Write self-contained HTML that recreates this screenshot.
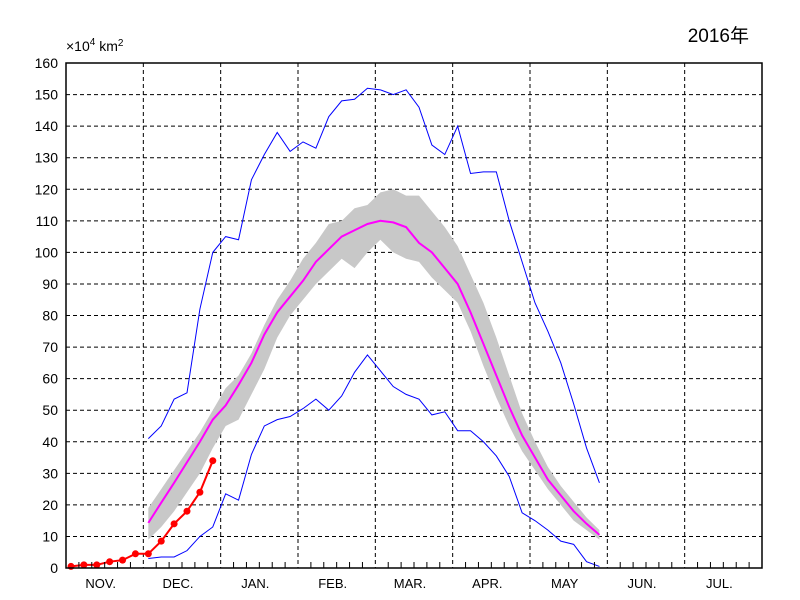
<!DOCTYPE html>
<html><head><meta charset="utf-8"><style>
html,body{margin:0;padding:0;background:#fff}
svg{display:block;font-family:"Liberation Sans","Noto Sans CJK JP",sans-serif}
</style></head><body>
<svg id="chart" width="800" height="600" viewBox="0 0 800 600">
<rect x="0" y="0" width="800" height="600" fill="#fff"/>
<text x="749" y="42" font-size="19" text-anchor="end" fill="#000">2016年</text>
<text x="66" y="51" font-size="14" fill="#000">×10<tspan font-size="10" dy="-6">4</tspan><tspan dy="6"> km</tspan><tspan font-size="10" dy="-5">2</tspan></text>
<g id="grid"></g>
<g id="marks"></g>
<rect x="66" y="63" width="696" height="505" fill="none" stroke="#000" stroke-width="1.5"/>
<g id="axes"></g>
</svg>
<script>
const yTicks=[0,10,20,30,40,50,60,70,80,90,100,110,120,130,140,150,160];
const months=["NOV.","DEC.","JAN.","FEB.","MAR.","APR.","MAY","JUN.","JUL."];
const current=[0.5,1,1,2,2.5,4.5,4.5,8.5,14,18,24,34];
const climStart=6;
const climMean=[14.3,20.7,27,33.5,40,47,51.5,58,65,74,81,86,91,97,101,105,107,109,110,109.5,108,103,100,95,90,81,71,61,51,42,35,28,23,18,14,10.5];
const bandUpper=[19,25,31,37,43,50,57,61,68,77,85,91,98,103,109,110,114,115,119,120,118,118,113,108,102,93,84,73,61,49,40,32,26,21,16,12];
const bandLower=[9,13,18,24,30,38,45,47,55,63,73,80,85,90,94,98,95,100,104,100,98,97,92,88,84,75,64,54,45,37,31,25,20,15,12,9];
const maxLine=[41,45,53.5,55.5,82,100,105,104,123,131,138,132,135,133,143,148,148.5,152,151.5,150,151.5,146,134,131,140,125,125.5,125.5,110,97,84,75,65,52,38,27];
const minLine=[3,3.5,3.5,5.5,10,13,23.5,21.5,36,45,47,48,50.5,53.5,50,54.5,62,67.5,62.5,57.5,55,53.5,48.5,49.5,43.5,43.5,40,35.5,29,17.5,15,12,8.5,7.5,2,0.5];

const NS="http://www.w3.org/2000/svg";
const L=66,R=762,T=63,B=568,yMax=160,monthW=(R-L)/9,step=monthW/6;
const y=v=>B-(v/yMax)*(B-T);
const x=i=>L+5+step*i;
function mk(tag,parent){const e=document.createElementNS(NS,tag);document.getElementById(parent).appendChild(e);return e;}

yTicks.forEach(v=>{
  if(v>0&&v<160){const g=mk("line","grid");
  
  
  g.setAttribute("x1",L);g.setAttribute("x2",R);g.setAttribute("y1",y(v));g.setAttribute("y2",y(v));
  g.setAttribute("stroke","#000");g.setAttribute("stroke-dasharray","4,3");}
  const t=mk("text","axes");
  
  
  t.setAttribute("x",58);t.setAttribute("y",y(v)+5);t.setAttribute("text-anchor","end");t.setAttribute("font-size","14");
  t.textContent=v;
});
months.forEach((m,k)=>{
  if(k>0){const g=mk("line","grid");
  
  
  const gx=L+monthW*k;
  g.setAttribute("x1",gx);g.setAttribute("x2",gx);g.setAttribute("y1",T);g.setAttribute("y2",B);
  g.setAttribute("stroke","#000");g.setAttribute("stroke-dasharray","4,3");}
  const t=mk("text","axes");
  
  
  t.setAttribute("x",L+monthW*(k+0.5)-4);t.setAttribute("y",588);t.setAttribute("text-anchor","middle");t.setAttribute("font-size","13");
  t.textContent=m;
  for(let j=1;j<6;j++){const tk=mk("line","axes");
    
    
    const tx=L+monthW*k+step*j;
    tk.setAttribute("x1",tx);tk.setAttribute("x2",tx);tk.setAttribute("y1",B);tk.setAttribute("y2",B-6);tk.setAttribute("stroke","#000");}
});
let d="";
bandUpper.forEach((v,i)=>{d+=(i?"L":"M")+x(i+climStart)+","+y(v);});
for(let i=bandLower.length-1;i>=0;i--){d+="L"+x(i+climStart)+","+y(bandLower[i]);}
const band=mk("path","marks");


band.setAttribute("d",d+"Z");band.setAttribute("fill","#c8c8c8");
function line(arr,start,color,w,name){
  const p=mk("polyline","marks");
  
  
  p.setAttribute("points",arr.map((v,i)=>x(i+start)+","+y(v)).join(" "));
  p.setAttribute("fill","none");p.setAttribute("stroke",color);p.setAttribute("stroke-width",w);
}
line(maxLine,climStart,"#0000ff",1,'max-line');
line(minLine,climStart,"#0000ff",1,'min-line');
line(climMean,climStart,"#ff00ff",2,'mean-line');
line(current,0,"#ff0000",2,'current-year-line');
current.forEach((v,i)=>{
  const c=mk("circle","marks");
  
  
  c.setAttribute("cx",x(i));c.setAttribute("cy",y(v));c.setAttribute("r",3.5);c.setAttribute("fill","#ff0000");
});
</script>
</body></html>
